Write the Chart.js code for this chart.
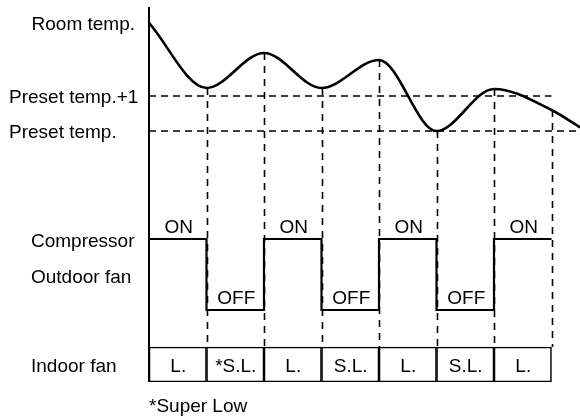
<!DOCTYPE html>
<html>
<head>
<meta charset="utf-8">
<script src="https://cdn.jsdelivr.net/npm/chart.js@4"></script>
<style>
  html, body { margin: 0; padding: 0; background: #fff; }
  #wrap { width: 580px; height: 419px; }
</style>
</head>
<body>
<div id="wrap"><canvas id="chart"></canvas></div>
<script>
// Room temperature curve (x = time step, y = degrees above preset temp)
const roomTempX = [0, 1, 2, 3, 4, 5, 6, 7, 7.5];
const roomTempY = [3.09, 1.23, 2.23, 1.23, 2.03, 0, 1.2, 0.6, 0.1];

// Compressor / outdoor fan state per interval (1 = ON, 0 = OFF)
const compressorState = [1, 0, 1, 0, 1, 0, 1];
// Indoor fan speed per interval
const indoorFan = ['L.', '*S.L.', 'L.', 'S.L.', 'L.', 'S.L.', 'L.'];
// Switch points where the vertical dashed lines drop
const switchPoints = [1, 2, 3, 4, 5, 6, 7];

const FONT = '19px "Liberation Sans", Arial, sans-serif';

// Build the step line for the compressor
const stateData = compressorState.map((s, i) => ({ x: i, y: s }));
stateData.push({ x: compressorState.length, y: compressorState[compressorState.length - 1] });

// Table cells as floating bars
const tableData = indoorFan.map((t, i) => ({ x: i + 0.5, y: [0, 1] }));

const roomData = roomTempX.map((x, i) => ({ x: x, y: roomTempY[i] }));

// Draw guides, axis line and texts on top of the scales
const diagramPlugin = {
  id: 'diagram',
  beforeDatasetsDraw(chart) {
    const ctx = chart.ctx;
    const xs = chart.scales.x;
    const yt = chart.scales.yTemp;
    const yb = chart.scales.yTable;
    ctx.save();
    ctx.strokeStyle = '#000';
    ctx.lineWidth = 1.6;
    ctx.setLineDash([7, 5]);
    // Preset temp.+1 and Preset temp.
    ctx.beginPath();
    ctx.moveTo(xs.getPixelForValue(0), yt.getPixelForValue(1));
    ctx.lineTo(xs.getPixelForValue(7), yt.getPixelForValue(1));
    ctx.moveTo(xs.getPixelForValue(0), yt.getPixelForValue(0));
    ctx.lineTo(chart.chartArea.right, yt.getPixelForValue(0));
    ctx.stroke();
    // vertical dashed lines from the curve down to the table
    ctx.setLineDash([7, 6]);
    ctx.beginPath();
    switchPoints.forEach(p => {
      const idx = roomTempX.indexOf(p);
      const px = Math.round(xs.getPixelForValue(p)) + 0.5;
      ctx.moveTo(px, yt.getPixelForValue(roomTempY[idx]));
      ctx.lineTo(px, yb.getPixelForValue(1));
    });
    ctx.stroke();
    ctx.restore();
  },
  afterDatasetsDraw(chart) {
    const ctx = chart.ctx;
    const xs = chart.scales.x;
    const yt = chart.scales.yTemp;
    const ys = chart.scales.yState;
    const yb = chart.scales.yTable;
    ctx.save();
    // left axis line
    ctx.strokeStyle = '#000';
    ctx.lineWidth = 2;
    ctx.beginPath();
    const ax = xs.getPixelForValue(0);
    ctx.moveTo(ax, chart.chartArea.top);
    ctx.lineTo(ax, yb.getPixelForValue(0));
    ctx.stroke();

    ctx.fillStyle = '#000';
    ctx.font = FONT;
    ctx.textBaseline = 'alphabetic';
    ctx.textAlign = 'right';
    ctx.fillText('Room temp.', 135, yt.getPixelForValue(roomTempY[0]) + 7);
    ctx.textAlign = 'left';
    ctx.fillText('Preset temp.+1', 9, yt.getPixelForValue(1) + 7);
    ctx.fillText('Preset temp.', 9, yt.getPixelForValue(0) + 7);
    ctx.fillText('Compressor', 31, ys.getPixelForValue(1) + 8);
    ctx.fillText('Outdoor fan', 31, ys.getPixelForValue(0.5) + 8);
    ctx.fillText('Indoor fan', 31, yb.getPixelForValue(0.5) + 7.5);
    ctx.fillText('*Super Low', ax, yb.getPixelForValue(0) + 30);

    ctx.textAlign = 'center';
    compressorState.forEach((s, i) => {
      const cx = xs.getPixelForValue(i + 0.5);
      const label = s ? 'ON' : 'OFF';
      ctx.fillText(label, cx + 1, ys.getPixelForValue(s) - 6.5);
    });
    indoorFan.forEach((t, i) => {
      ctx.fillText(t, xs.getPixelForValue(i + 0.5) + 0.5, yb.getPixelForValue(0.5) + 7.5);
    });
    ctx.restore();
  }
};

new Chart(document.getElementById('chart'), {
  data: {
    datasets: [
      {
        type: 'line',
        data: roomData,
        xAxisID: 'x',
        yAxisID: 'yTemp',
        borderColor: '#000',
        borderWidth: 2.6,
        pointRadius: 0,
        cubicInterpolationMode: 'monotone',
        fill: false
      },
      {
        type: 'line',
        data: stateData,
        xAxisID: 'x',
        yAxisID: 'yState',
        stepped: 'before',
        borderColor: '#000',
        borderWidth: 2.2,
        pointRadius: 0,
        fill: false
      },
      {
        type: 'bar',
        data: tableData,
        xAxisID: 'x',
        yAxisID: 'yTable',
        backgroundColor: '#fff',
        borderColor: '#000',
        borderWidth: 1.6,
        borderSkipped: false,
        barPercentage: 1,
        categoryPercentage: 1
      }
    ]
  },
  options: {
    responsive: true,
    maintainAspectRatio: false,
    animation: false,
    layout: { padding: { left: 149, top: 7, right: 0, bottom: 37 } },
    plugins: { legend: { display: false }, tooltip: { enabled: false } },
    scales: {
      x: { type: 'linear', display: false, min: 0, max: 431 / 57.5, offset: false },
      yTemp: { type: 'linear', display: false, min: -251 / 35, max: 124 / 35 },
      yState: { type: 'linear', display: false, min: -72 / 71, max: 303 / 71 },
      yTable: { type: 'linear', display: false, min: 0, max: 375 / 35 }
    }
  },
  plugins: [diagramPlugin]
});
</script>
</body>
</html>
